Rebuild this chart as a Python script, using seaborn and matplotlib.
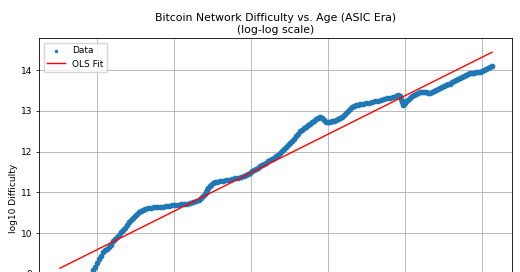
import numpy as np
import pandas as pd
import matplotlib
matplotlib.use("Agg")
import matplotlib.pyplot as plt
import seaborn as sns

# log10 age (x) and log10 difficulty (y)
log_age = [
    3.1519, 3.1571, 3.1623, 3.1675, 3.1727, 3.1779, 3.1831, 3.1883, 3.1922,
    3.1948, 3.1974, 3.2000, 3.2026, 3.2052, 3.2078, 3.2104, 3.2130, 3.2156, 3.2182,
    3.2208, 3.2234, 3.2260, 3.2286, 3.2312, 3.2338, 3.2364, 3.2390, 3.2416, 3.2442,
    3.2468, 3.2494, 3.2519, 3.2545, 3.2571, 3.2597, 3.2623, 3.2662, 3.2701, 3.2740,
    3.2779, 3.2818, 3.2857, 3.2896, 3.2935, 3.2974, 3.3013, 3.3052, 3.3091, 3.3130,
    3.3169, 3.3208, 3.3247, 3.3286, 3.3325, 3.3351, 3.3377, 3.3403, 3.3416, 3.3429,
    3.3448, 3.3468, 3.3487, 3.3506, 3.3532, 3.3558, 3.3597, 3.3636, 3.3675, 3.3714,
    3.3753, 3.3792, 3.3831, 3.3870, 3.3909, 3.3935, 3.3961, 3.3987, 3.4013, 3.4039,
    3.4065, 3.4091, 3.4117, 3.4143, 3.4169, 3.4195, 3.4221, 3.4247, 3.4273, 3.4299,
    3.4325, 3.4351, 3.4377, 3.4403, 3.4429, 3.4455, 3.4481, 3.4506, 3.4532, 3.4558,
    3.4584, 3.4610, 3.4636, 3.4662, 3.4688, 3.4714, 3.4740, 3.4766, 3.4792, 3.4818,
    3.4844, 3.4870, 3.4896, 3.4922, 3.4948, 3.4974, 3.5000, 3.5026, 3.5052, 3.5078,
    3.5104, 3.5130, 3.5156, 3.5182, 3.5208, 3.5234, 3.5260, 3.5286, 3.5312, 3.5338,
    3.5364, 3.5390, 3.5416, 3.5455, 3.5494, 3.5532, 3.5571, 3.5610, 3.5649, 3.5688,
    3.5727, 3.5766, 3.5805, 3.5844, 3.5883, 3.5909, 3.5929, 3.5942, 3.5955, 3.5968,
    3.5987, 3.6000, 3.6019, 3.6039, 3.6065, 3.6091, 3.6117, 3.6143, 3.6169, 3.6195,
    3.6221, 3.6247, 3.6273, 3.6299, 3.6325, 3.6351, 3.6377, 3.6403, 3.6429, 3.6455,
    3.6481, 3.6506, 3.6532, 3.6558, 3.6584, 3.6610, 3.6636, 3.6662, 3.6688, 3.6714,
    3.6740, 3.6766, 3.6792, 3.6818, 3.6844, 3.6870, 3.6896, 3.6922, 3.6948, 3.6974,
    3.7000, 3.7026, 3.7052, 3.7078, 3.7104, 3.7130,
]
log_difficulty = [
    7.29, 7.55, 7.80, 8.05, 8.27, 8.47, 8.65, 8.82, 8.97,
    9.086, 9.160, 9.258, 9.356, 9.430, 9.528, 9.577, 9.614, 9.651, 9.700,
    9.799, 9.848, 9.897, 9.946, 10.020, 10.069, 10.130, 10.192, 10.265, 10.314,
    10.364, 10.425, 10.474, 10.511, 10.548, 10.572, 10.597, 10.609, 10.622, 10.629,
    10.634, 10.639, 10.651, 10.658, 10.666, 10.676, 10.683, 10.693, 10.703, 10.708,
    10.720, 10.737, 10.762, 10.786, 10.818, 10.855, 10.904, 10.953, 11.002, 11.052,
    11.101, 11.150, 11.187, 11.224, 11.241, 11.253, 11.273, 11.283, 11.297, 11.312,
    11.334, 11.342, 11.356, 11.376, 11.396, 11.420, 11.445, 11.482, 11.518, 11.543,
    11.568, 11.604, 11.641, 11.666, 11.690, 11.727, 11.764, 11.789, 11.813, 11.850,
    11.887, 11.924, 11.961, 12.010, 12.059, 12.108, 12.157, 12.206, 12.256, 12.317,
    12.378, 12.440, 12.501, 12.538, 12.575, 12.612, 12.649, 12.686, 12.722, 12.759,
    12.796, 12.833, 12.845, 12.833, 12.784, 12.735, 12.722, 12.735, 12.747, 12.759,
    12.771, 12.796, 12.821, 12.857, 12.894, 12.943, 12.993, 13.042, 13.091, 13.115,
    13.140, 13.152, 13.165, 13.172, 13.182, 13.194, 13.214, 13.231, 13.243, 13.256,
    13.287, 13.305, 13.324, 13.342, 13.361, 13.386, 13.361, 13.287, 13.214, 13.152,
    13.165, 13.201, 13.238, 13.275, 13.324, 13.354, 13.386, 13.410, 13.435, 13.459,
    13.472, 13.472, 13.459, 13.440, 13.435, 13.459, 13.484, 13.509, 13.533, 13.558,
    13.582, 13.607, 13.631, 13.649, 13.668, 13.698, 13.730, 13.754, 13.779, 13.803,
    13.828, 13.853, 13.877, 13.902, 13.926, 13.934, 13.939, 13.943, 13.951, 13.963,
    13.975, 14.000, 14.025, 14.049, 14.074, 14.098,
]

# OLS fit line end points
fit_x = [3.1519, 3.7130]
fit_y = [9.135, 14.44]

y_ticks = [7, 8, 9, 10, 11, 12, 13, 14]
x_ticks = [3.2, 3.3, 3.4, 3.5, 3.6, 3.7]

df = pd.DataFrame({"x": log_age, "y": log_difficulty})
fit_df = pd.DataFrame({"x": fit_x, "y": fit_y})

W, H = 520, 272
fig = plt.figure(figsize=(W / 100, H / 100), dpi=100)
ax = fig.add_axes([39 / W, (H - 358) / H, 473 / W, 320 / H])

sns.scatterplot(data=df, x="x", y="y", ax=ax, s=17, color="#1f77b4",
                linewidth=0, label="Data", zorder=2)
sns.lineplot(data=fit_df, x="x", y="y", ax=ax, color="red", linewidth=1.0,
             label="OLS Fit", zorder=3)

ax.set_xlim(3.1247, 3.739)
ax.set_ylim(6.93, 14.79)
ax.set_xticks(x_ticks)
ax.set_yticks(y_ticks)
ax.grid(True, color="#b0b0b0", linewidth=0.6, zorder=0)
ax.set_axisbelow(True)
for sp in ax.spines.values():
    sp.set_linewidth(0.6)
ax.tick_params(labelsize=6.5, width=0.55, length=2.3, pad=2.3)
ax.set_xlabel("log10 Age (days)", fontsize=6.5)
ax.set_ylabel("log10 Difficulty", fontsize=6.5, labelpad=2.6)
ax.set_title("Bitcoin Network Difficulty vs. Age (ASIC Era)\n(log-log scale)",
             fontsize=7.8, pad=3.9)
ax.legend(loc="upper left", fontsize=6.5, markerscale=0.6)

fig.savefig("out.png", dpi=100)
